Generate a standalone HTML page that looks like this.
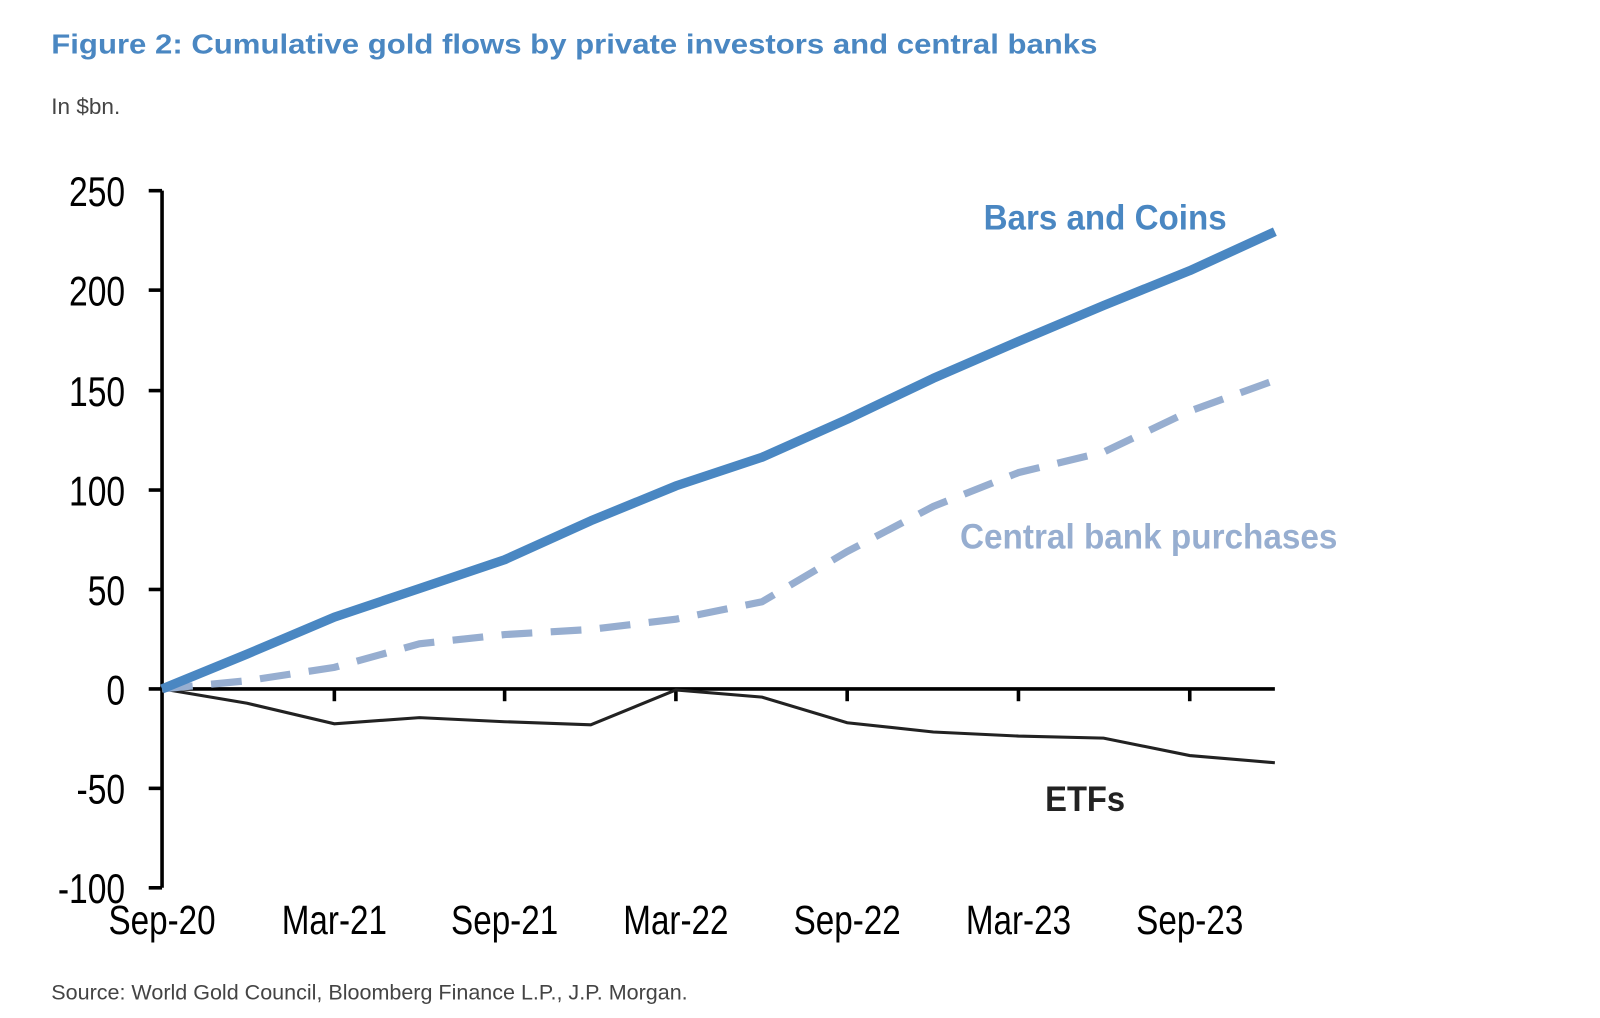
<!DOCTYPE html>
<html><head><meta charset="utf-8"><style>html,body{margin:0;padding:0;background:#fff}svg{display:block}</style></head>
<body>
<svg width="1600" height="1018" viewBox="0 0 1560 993" preserveAspectRatio="none" xmlns="http://www.w3.org/2000/svg" font-family="Liberation Sans, Arial, sans-serif">
<text x="50" y="52" font-size="27" font-weight="bold" fill="#4a87c2" textLength="1020" lengthAdjust="spacingAndGlyphs">Figure 2: Cumulative gold flows by private investors and central banks</text>
<text x="50" y="111" font-size="22" fill="#444">In $bn.</text>
<g stroke="#000" stroke-width="3.5" fill="none">
<line x1="158" y1="186" x2="158" y2="866"/>
<line x1="145" y1="186" x2="158" y2="186"/>
<line x1="145" y1="283" x2="158" y2="283"/>
<line x1="145" y1="381" x2="158" y2="381"/>
<line x1="145" y1="478" x2="158" y2="478"/>
<line x1="145" y1="575" x2="158" y2="575"/>
<line x1="145" y1="672" x2="1243" y2="672"/>
<line x1="145" y1="769" x2="158" y2="769"/>
<line x1="145" y1="866" x2="158" y2="866"/>
<line x1="326" y1="672" x2="326" y2="684"/>
<line x1="492" y1="672" x2="492" y2="684"/>
<line x1="659" y1="672" x2="659" y2="684"/>
<line x1="826" y1="672" x2="826" y2="684"/>
<line x1="993" y1="672" x2="993" y2="684"/>
<line x1="1160" y1="672" x2="1160" y2="684"/>
</g>
<g font-size="41" fill="#000" text-anchor="end">
<text transform="translate(122,201) scale(0.8,1)">250</text>
<text transform="translate(122,298) scale(0.8,1)">200</text>
<text transform="translate(122,396) scale(0.8,1)">150</text>
<text transform="translate(122,493) scale(0.8,1)">100</text>
<text transform="translate(122,590) scale(0.8,1)">50</text>
<text transform="translate(122,687) scale(0.8,1)">0</text>
<text transform="translate(122,784) scale(0.8,1)">-50</text>
<text transform="translate(122,881) scale(0.8,1)">-100</text>
</g>
<g font-size="40" fill="#000" text-anchor="middle">
<text transform="translate(158,911) scale(0.81,1)">Sep-20</text>
<text transform="translate(326,911) scale(0.81,1)">Mar-21</text>
<text transform="translate(492,911) scale(0.81,1)">Sep-21</text>
<text transform="translate(659,911) scale(0.81,1)">Mar-22</text>
<text transform="translate(826,911) scale(0.81,1)">Sep-22</text>
<text transform="translate(993,911) scale(0.81,1)">Mar-23</text>
<text transform="translate(1160,911) scale(0.81,1)">Sep-23</text>
</g>
<polyline fill="none" stroke="#222" stroke-width="3" points="158,672 241,686 326,706 409,700 492,704 576,707 659,673 743,680 826,705 910,714 993,718 1076,720 1160,737 1243,744"/>
<polyline fill="none" stroke="#97aed0" stroke-width="7" stroke-dasharray="30,18" points="158,672 241,664 326,651 409,628 492,619 576,614 659,604 743,587 826,538 910,494 993,461 1076,441 1160,401 1243,371"/>
<polyline fill="none" stroke="#4a87c2" stroke-width="9" stroke-linejoin="round" points="158,672 241,638 326,602 409,574 492,546 576,508 659,474 743,446 826,409 910,369 993,333 1076,298 1160,264 1243,226"/>
<text x="959" y="224" font-size="34" font-weight="bold" fill="#4a87c2" textLength="237" lengthAdjust="spacingAndGlyphs">Bars and Coins</text>
<text x="936" y="535" font-size="34" font-weight="bold" fill="#97aed0" textLength="368" lengthAdjust="spacingAndGlyphs">Central bank purchases</text>
<text x="1019" y="791" font-size="34" font-weight="bold" fill="#222" textLength="78" lengthAdjust="spacingAndGlyphs">ETFs</text>
<text x="50" y="975" font-size="21" fill="#444">Source: World Gold Council, Bloomberg Finance L.P., J.P. Morgan.</text>
</svg>
</body></html>
